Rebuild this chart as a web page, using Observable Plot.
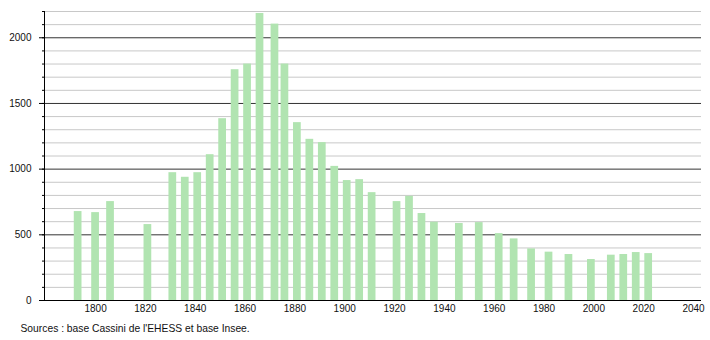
<!DOCTYPE html>
<html>
<head>
<meta charset="utf-8">
<script src="https://cdn.jsdelivr.net/npm/d3@7"></script>
<script src="https://cdn.jsdelivr.net/npm/@observablehq/plot@0.6"></script>
<style>
  html, body { margin: 0; padding: 0; background: #fff; }
  svg { display: block; font-family: "Liberation Sans", Arial, Helvetica, sans-serif; }
</style>
</head>
<body>
<div id="chart"></div>
<script>
const years = [1793,1800,1806,1821,1831,1836,1841,1846,1851,1856,1861,1866,1872,1876,1881,1886,1891,1896,1901,1906,1911,1921,1926,1931,1936,1946,1954,1962,1968,1975,1982,1990,1999,2007,2012,2017,2022];
const population = [677,669,753,578,973,938,973,1110,1384,1757,1800,2185,2104,1800,1354,1227,1202,1021,913,920,821,753,793,662,596,586,593,509,469,393,368,350,312,345,350,365,357];
const xTicks = [1800,1820,1840,1860,1880,1900,1920,1940,1960,1980,2000,2020,2040];
const yTicks = [0,500,1000,1500,2000];
const minorTicks = d3.range(0, 2201, 100);
const caption = "Sources : base Cassini de l'EHESS et base Insee.";

const data = years.map((year, i) => ({year, population: population[i]}));
const halfWidth = 1.55;

const chart = Plot.plot({
  width: 710,
  height: 340,
  marginTop: 11,
  marginBottom: 40,
  marginLeft: 44,
  marginRight: 9,
  style: {fontSize: "10px", fontFamily: "'Liberation Sans', Arial, Helvetica, sans-serif", color: "#111", background: "#fff"},
  x: {domain: [1779.5, 2043.2], label: null},
  y: {domain: [0, 2200], label: null},
  marks: [
    Plot.ruleY(minorTicks.filter(v => v % 500 !== 0), {stroke: "#c8c8c8", strokeWidth: 1}),
    Plot.ruleY(yTicks.filter(v => v > 0), {stroke: "#333", strokeWidth: 1}),
    Plot.rectY(data, {x1: d => d.year - halfWidth, x2: d => d.year + halfWidth, y: "population", fill: "#b1e4b1"}),
    Plot.ruleY([0], {stroke: "#000", strokeWidth: 1}),
    Plot.ruleX([1779.5], {y1: 0, y2: 2200, stroke: "#000", strokeWidth: 1}),
    Plot.axisY({ticks: minorTicks, tickSize: 2, text: null, stroke: "#000", label: null}),
    Plot.axisY({ticks: yTicks, tickSize: 5, tickPadding: 8, tickFormat: d => String(d), stroke: "#000", fill: "#111", label: null}),
    Plot.axisX({ticks: xTicks, tickSize: 0, tickPadding: 4, tickFormat: d => String(d), fill: "#111", label: null}),
    Plot.text([caption], {frameAnchor: "bottom-left", dx: -24, dy: 31, text: d => d, textAnchor: "start", fill: "#111", fontSize: 10.3})
  ]
});
document.getElementById("chart").append(chart);
</script>
</body>
</html>
